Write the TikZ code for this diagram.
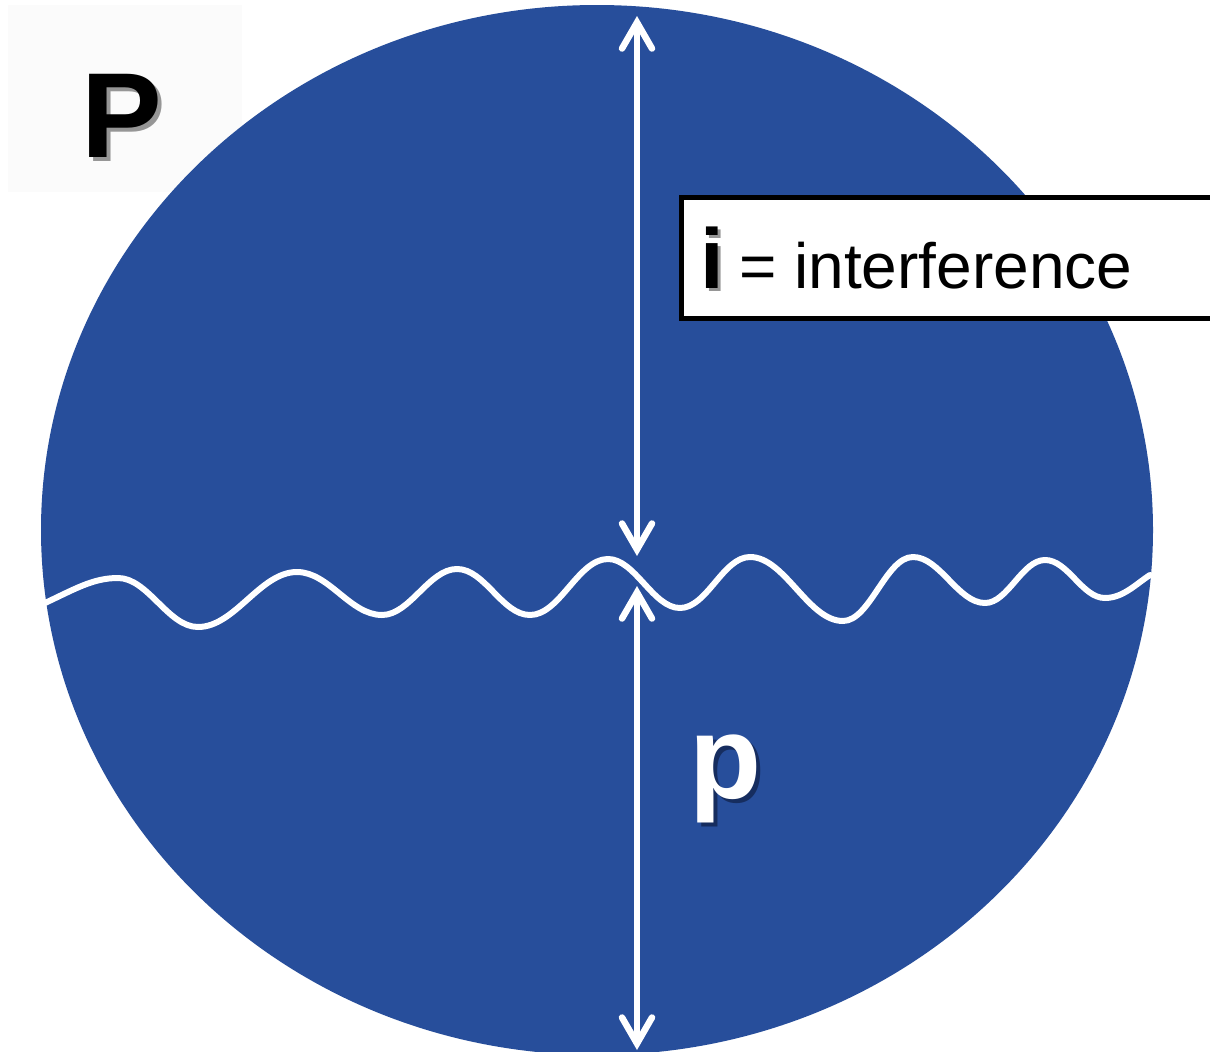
\documentclass[tikz,border=0pt]{standalone}
\usepackage{fontspec}
\setmainfont{Liberation Sans}
\usetikzlibrary{arrows.meta}
\definecolor{discblue}{RGB}{39,78,155}
\definecolor{shadowgray}{RGB}{150,150,150}
\definecolor{shadowblue}{RGB}{22,45,95}
\newcommand{\shadowed}[3]{\hbox{\rlap{\kern#1\lower#1\hbox{\color{#2}#3}}#3}}
\begin{document}
\begin{tikzpicture}[x=1bp,y=-1bp,
  disc/.style={fill=discblue},
  wave/.style={draw=white,line width=6bp,line cap=round,line join=round},
  dimarrow/.style={draw=white,line width=6.5bp,
    {Straight Barb[length=26bp,width=30bp,line cap=round]}-{Straight Barb[length=26bp,width=30bp,line cap=round]}},
  bigP/.style={inner sep=0,anchor=base west,font=\fontsize{121bp}{130bp}\selectfont\bfseries},
  bigi/.style={inner sep=0,anchor=base west,font=\fontsize{85bp}{90bp}\selectfont\bfseries},
  smalltxt/.style={inner sep=0,anchor=base west,font=\fontsize{64bp}{70bp}\selectfont},
  bigp/.style={inner sep=0,anchor=base west,font=\fontsize{118bp}{125bp}\selectfont\bfseries},
  legendbox/.style={draw=black,fill=white,line width=5bp}
]
\useasboundingbox (0,0) rectangle (1210,1052);
\fill[white] (0,0) rectangle (1210,1052);
% faint panel behind P
\fill[black!1.5] (8,5) rectangle (242,192);
% disc
\fill[disc] (597,530) ellipse [x radius=556, y radius=525];

% legend box
\draw[legendbox] (681,197.5) rectangle (1225,318.5);
\node[bigi] (ilabel) at (700,288) {\shadowed{3bp}{shadowgray}{i}};
\node[smalltxt] (ilegend) at (739,288) {= interference};

% P label
\node[bigP] (Plabel) at (81,157) {\shadowed{4bp}{shadowgray}{P}};

% p label
\node[bigp,text=white] (plabel) at (689,798) {\shadowed{4bp}{shadowblue}{p}};

% wave
\coordinate (wL) at (45,603);
\coordinate (wR) at (1150,575);
\draw[wave] (wL)
  .. controls +(30,-14) and +(-25,0) .. (118,578)
  .. controls +(30,0) and +(-30,0) .. (198,627)
  .. controls +(37,0) and +(-37,0) .. (297,572)
  .. controls +(32,0) and +(-32,0) .. (382,615)
  .. controls +(28,0) and +(-28,0) .. (457,569)
  .. controls +(28,0) and +(-28,0) .. (530,615)
  .. controls +(30,0) and +(-30,0) .. (608,559)
  .. controls +(27,0) and +(-27,0) .. (680,608)
  .. controls +(27,0) and +(-27,0) .. (750,557)
  .. controls +(35,0) and +(-35,0) .. (843,621)
  .. controls +(27,0) and +(-27,0) .. (913,557)
  .. controls +(27,0) and +(-27,0) .. (985,603)
  .. controls +(23,0) and +(-23,0) .. (1045,560)
  .. controls +(23,0) and +(-23,0) .. (1105,598)
  .. controls +(18,0) and +(-14,9) .. (wR);

% dimension arrows
\coordinate (aTop) at (637,16);
\coordinate (aMid1) at (637,556);
\coordinate (aMid2) at (637,586);
\coordinate (aBot) at (637,1050);
\draw[dimarrow] (aTop) -- (aMid1);
\draw[dimarrow] (aMid2) -- (aBot);
\end{tikzpicture}
\end{document}
